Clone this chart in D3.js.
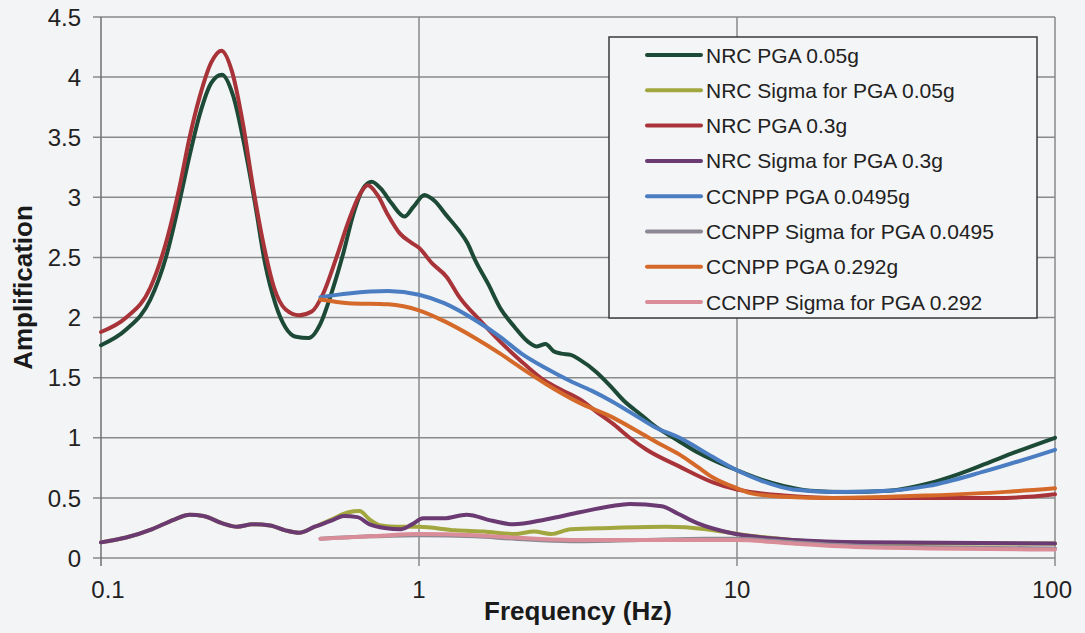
<!DOCTYPE html>
<html>
<head>
<meta charset="utf-8">
<script src="https://cdn.jsdelivr.net/npm/d3@7"></script>
<style>
    body { margin: 0; background: #f3f4f6; }
    svg { display: block; font-family: "Liberation Sans", Arial, sans-serif; }
</style>
</head>
<body>
<svg id="chart" width="1085" height="633"></svg>
<script>
/**
 * Data: [frequency (Hz), amplification] pairs.
 */
const nrcPga005 = [[0.1,1.77],[0.12,1.9],[0.143,2.15],[0.16,2.5],[0.177,2.98],[0.19,3.35],[0.205,3.7],[0.222,3.95],[0.24,4.02],[0.26,3.85],[0.284,3.4],[0.305,2.95],[0.328,2.45],[0.355,2.1],[0.38,1.92],[0.41,1.84],[0.45,1.83],[0.49,1.95],[0.53,2.2],[0.58,2.55],[0.62,2.85],[0.67,3.08],[0.71,3.13],[0.76,3.07],[0.82,2.95],[0.9,2.84],[0.96,2.92],[1.04,3.02],[1.12,2.97],[1.22,2.85],[1.33,2.73],[1.42,2.62],[1.5,2.48],[1.65,2.28],[1.8,2.08],[2.0,1.92],[2.2,1.8],[2.35,1.76],[2.5,1.78],[2.65,1.72],[2.8,1.7],[3.0,1.69],[3.2,1.65],[3.6,1.55],[4.0,1.43],[4.4,1.31],[5.0,1.19],[5.5,1.1],[6.5,0.98],[7.5,0.88],[8.5,0.81],[10,0.73],[12,0.65],[14,0.6],[17,0.56],[22,0.55],[30,0.56],[40,0.62],[50,0.7],[60,0.78],[75,0.88],[100,1.0]];
const nrcSigma005 = [[0.1,0.13],[0.12,0.17],[0.145,0.24],[0.17,0.32],[0.19,0.36],[0.21,0.35],[0.24,0.29],[0.268,0.26],[0.3,0.28],[0.34,0.27],[0.38,0.23],[0.42,0.21],[0.47,0.26],[0.53,0.32],[0.6,0.38],[0.65,0.39],[0.7,0.32],[0.76,0.27],[0.85,0.26],[1.0,0.26],[1.3,0.23],[1.6,0.22],[2.0,0.2],[2.3,0.22],[2.6,0.2],[3.0,0.24],[4.0,0.25],[6.0,0.26],[8.0,0.24],[10,0.2],[15,0.15],[20,0.13],[40,0.12],[100,0.12]];
const nrcPga03 = [[0.1,1.88],[0.12,2.0],[0.143,2.25],[0.16,2.62],[0.177,3.1],[0.19,3.5],[0.205,3.85],[0.222,4.12],[0.239,4.22],[0.258,4.05],[0.28,3.6],[0.3,3.1],[0.325,2.6],[0.35,2.25],[0.38,2.07],[0.42,2.02],[0.46,2.05],[0.5,2.2],[0.55,2.5],[0.6,2.8],[0.65,3.02],[0.69,3.1],[0.74,3.02],[0.8,2.85],[0.87,2.7],[0.95,2.62],[1.0,2.58],[1.1,2.45],[1.22,2.34],[1.34,2.17],[1.55,1.98],[1.8,1.8],[2.07,1.65],[2.5,1.47],[2.8,1.4],[3.2,1.32],[3.6,1.22],[4.06,1.12],[4.6,1.0],[5.2,0.9],[6.6,0.76],[8.4,0.63],[10,0.57],[11,0.55],[14,0.52],[20,0.5],[40,0.5],[70,0.5],[100,0.53]];
const nrcSigma03 = [[0.1,0.13],[0.12,0.17],[0.145,0.24],[0.17,0.32],[0.19,0.36],[0.21,0.35],[0.24,0.29],[0.268,0.26],[0.3,0.28],[0.34,0.27],[0.38,0.23],[0.42,0.21],[0.47,0.26],[0.53,0.31],[0.58,0.35],[0.64,0.34],[0.7,0.28],[0.78,0.25],[0.88,0.24],[0.95,0.28],[1.03,0.33],[1.2,0.33],[1.41,0.36],[1.7,0.31],[1.98,0.28],[2.5,0.32],[3.2,0.38],[4.0,0.43],[4.6,0.45],[5.8,0.43],[6.5,0.37],[7.5,0.29],[9.5,0.21],[12,0.17],[15,0.15],[25,0.13],[100,0.12]];
const ccnppPga0495 = [[0.49,2.17],[0.6,2.2],[0.8,2.22],[1.0,2.19],[1.2,2.12],[1.5,1.98],[1.8,1.84],[2.1,1.7],[2.5,1.58],[3.0,1.47],[3.5,1.39],[4.06,1.3],[4.9,1.17],[5.5,1.09],[6.6,1.0],[8.4,0.84],[10,0.73],[12,0.64],[15,0.57],[20,0.55],[30,0.56],[40,0.6],[60,0.72],[100,0.9]];
const ccnppSigma0495 = [[0.49,0.16],[0.7,0.18],[1.0,0.19],[1.5,0.18],[2.0,0.16],[3.0,0.14],[5,0.15],[8,0.16],[10,0.16],[15,0.13],[20,0.11],[40,0.09],[100,0.08]];
const ccnppPga0292 = [[0.49,2.15],[0.6,2.12],[0.8,2.11],[1.0,2.06],[1.2,1.97],[1.5,1.83],[1.8,1.7],[2.1,1.58],[2.5,1.45],[3.2,1.29],[4.06,1.17],[4.9,1.05],[5.7,0.95],[6.6,0.86],[7.5,0.76],[8.4,0.67],[10,0.58],[11,0.54],[14,0.51],[20,0.5],[40,0.52],[70,0.55],[100,0.58]];
const ccnppSigma0292 = [[0.49,0.16],[0.7,0.18],[1.0,0.2],[1.5,0.19],[2.0,0.17],[3.0,0.15],[5.0,0.15],[8,0.15],[10,0.15],[15,0.12],[20,0.1],[40,0.08],[100,0.07]];

const seriesNames = ['NRC PGA 0.05g', 'NRC Sigma for PGA 0.05g', 'NRC PGA 0.3g', 'NRC Sigma for PGA 0.3g',
    'CCNPP PGA 0.0495g', 'CCNPP Sigma for PGA 0.0495', 'CCNPP PGA 0.292g', 'CCNPP Sigma for PGA 0.292'];
const seriesValues = [nrcPga005, nrcSigma005, nrcPga03, nrcSigma03, ccnppPga0495, ccnppSigma0495, ccnppPga0292, ccnppSigma0292];
const xTicks = [0.1, 1, 10, 100];
const yTicks = [0, 0.5, 1, 1.5, 2, 2.5, 3, 3.5, 4, 4.5];

/**
 * Visual configs.
 */
const colors = ['#1d4a36', '#a2a63e', '#a83439', '#6b3a72', '#4a7dc2', '#8d8893', '#d4692a', '#d88d98'];
const margin = { top: 17, left: 101 };

const svg = d3.select('#chart');
const g = svg.append('g').attr('transform', 'translate(' + margin.left + ',' + margin.top + ')');

const x = d3.scaleLog().domain([0.1, 100]).range([0, 954]);
const y = d3.scaleLinear().domain([0, 4.5]).range([541, 0]);

// Grid
g.append('g').selectAll('line').data(yTicks).join('line')
    .attr('x1', -8).attr('x2', x(100))
    .attr('y1', d => y(d)).attr('y2', d => y(d))
    .attr('stroke', '#8a8a8a').attr('stroke-width', 1.5);

g.append('g').selectAll('line').data(xTicks).join('line')
    .attr('x1', d => x(d)).attr('x2', d => x(d))
    .attr('y1', 0).attr('y2', y(0) + 8)
    .attr('stroke', d => d === 0.1 ? '#707070' : '#8a8a8a').attr('stroke-width', 1.5);

// Tick labels
g.append('g').selectAll('text').data(yTicks).join('text')
    .attr('x', -20).attr('y', d => y(d)).attr('dy', '0.36em')
    .attr('text-anchor', 'end').attr('font-size', 24).attr('fill', '#222')
    .text(d => d);

g.append('g').selectAll('text').data(xTicks).join('text')
    .attr('x', d => x(d) + (d === 0.1 ? 7 : d === 100 ? -3 : 0)).attr('y', y(0) + 40)
    .attr('text-anchor', 'middle').attr('font-size', 24).attr('fill', '#222')
    .text(d => d);

// Axis titles
g.append('text')
    .attr('x', x(100) / 2).attr('y', y(0) + 62)
    .attr('text-anchor', 'middle').attr('font-size', 26).attr('font-weight', 'bold').attr('fill', '#1a1a1a')
    .text('Frequency (Hz)');

g.append('text')
    .attr('transform', 'translate(' + (32 - margin.left) + ',' + (y(0) / 2) + ') rotate(-90)')
    .attr('text-anchor', 'middle').attr('font-size', 26).attr('font-weight', 'bold').attr('fill', '#1a1a1a')
    .text('Amplification');

// Lines
const line = d3.line()
    .x(d => x(d[0]))
    .y(d => y(d[1]))
    .curve(d3.curveMonotoneX);

g.append('g').selectAll('path').data(seriesValues).join('path')
    .attr('d', line)
    .attr('fill', 'none')
    .attr('stroke', (d, i) => colors[i])
    .attr('stroke-width', 4)
    .attr('stroke-linejoin', 'round')
    .attr('stroke-linecap', 'round');

// Legend
const legend = svg.append('g').attr('transform', 'translate(609,37)');
legend.append('rect')
    .attr('width', 428).attr('height', 281)
    .attr('fill', '#f4f5f7').attr('stroke', '#3a3a3a').attr('stroke-width', 1.5);

const items = legend.selectAll('.item').data(seriesNames).join('g')
    .attr('class', 'item')
    .attr('transform', (d, i) => 'translate(0,' + (18 + i * 35.3) + ')');

items.append('line')
    .attr('x1', 38).attr('x2', 92)
    .attr('stroke', (d, i) => colors[i]).attr('stroke-width', 4).attr('stroke-linecap', 'round');

items.append('text')
    .attr('x', 97).attr('dy', '0.36em')
    .attr('font-size', 21).attr('fill', '#222')
    .text(d => d);
</script>
</body>
</html>
